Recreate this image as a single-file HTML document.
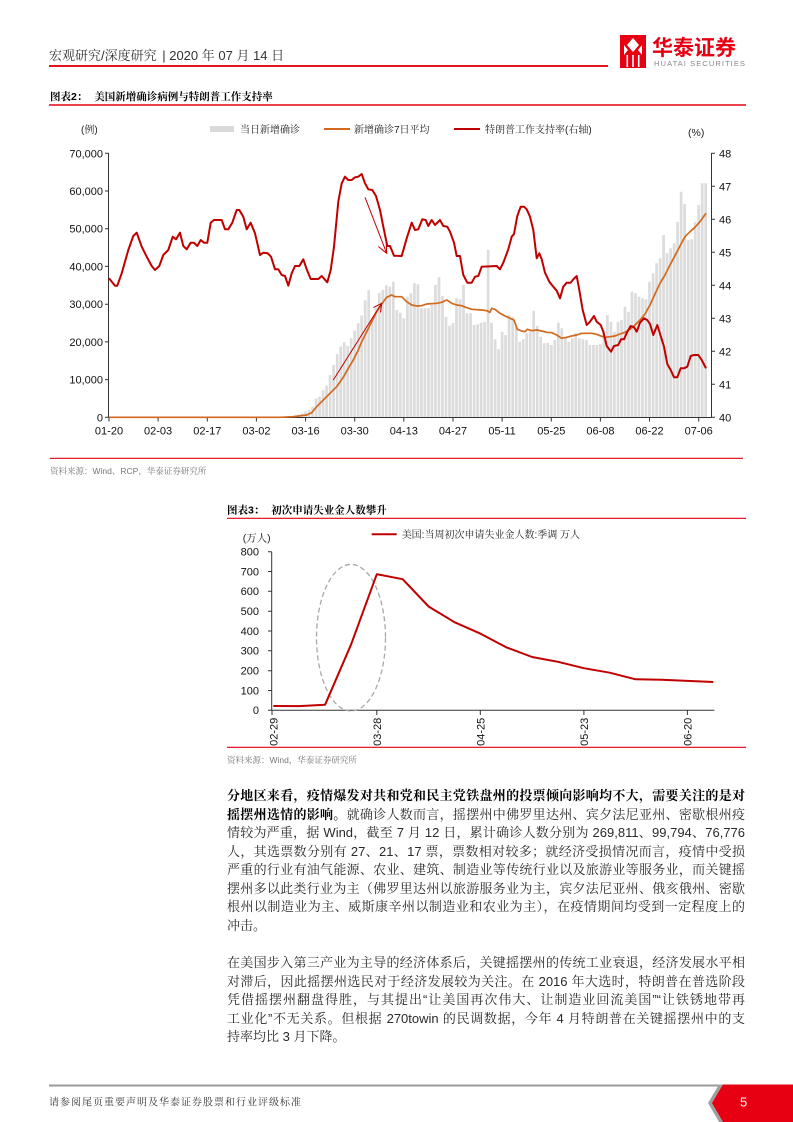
<!DOCTYPE html>
<html><head><meta charset="utf-8">
<style>
html,body{margin:0;padding:0;background:#fff;}
body{width:793px;height:1122px;position:relative;overflow:hidden;font-family:"Liberation Sans","Noto Serif CJK SC",serif;}
svg{position:absolute;left:0;top:0;}
.para{position:absolute;left:227px;width:518px;font-size:13px;color:#2a2a2a;}
.para div{height:18.5px;line-height:18.5px;text-align:justify;text-align-last:justify;white-space:nowrap;}
b{color:#000;font-weight:bold;}
</style></head><body>
<svg width="793" height="1122" viewBox="0 0 793 1122" xmlns="http://www.w3.org/2000/svg" font-family="Liberation Sans, Noto Serif CJK SC, serif">
<!-- header -->
<text x="49" y="60" font-size="13" fill="#333">宏观研究/深度研究 <tspan dx="2">| 2020 年 07 月 14 日</tspan></text>
<line x1="49" y1="66" x2="608" y2="66" stroke="#e8141b" stroke-width="2"/>
<rect x="620" y="35" width="26" height="33" fill="#e60012"/>
<polygon points="633,38 639,45 633,52 627,45" fill="#fff"/>
<polygon points="624,45 628,50 624,55" fill="#fff"/>
<polygon points="642,45 638,50 642,55" fill="#fff"/>
<rect x="626.5" y="55" width="1.6" height="12" fill="#fff"/>
<rect x="632.2" y="55" width="1.6" height="12" fill="#fff"/>
<rect x="637.9" y="55" width="1.6" height="12" fill="#fff"/>
<text x="652" y="55" font-size="21" font-weight="bold" fill="#e60012" font-family="Noto Sans CJK SC, sans-serif">华泰证券</text>
<text x="654" y="66" font-size="7.6" fill="#888" font-family="Liberation Sans, sans-serif" textLength="91">HUATAI SECURITIES</text>

<!-- chart 1 title -->
<text x="50" y="100" font-size="10.5" font-weight="bold" fill="#000">图表2： <tspan dx="4">美国新增确诊病例与特朗普工作支持率</tspan></text>
<line x1="49" y1="105" x2="746" y2="105" stroke="#e60012" stroke-width="1.5"/>

<!-- legend -->
<text x="81" y="133" font-size="10" fill="#222">(例)</text>
<rect x="210" y="126" width="24" height="6" fill="#d9d9d9"/>
<text x="240" y="133" font-size="10" fill="#222">当日新增确诊</text>
<line x1="324" y1="129" x2="350" y2="129" stroke="#d2691e" stroke-width="2"/>
<text x="354" y="133" font-size="10" fill="#222">新增确诊7日平均</text>
<line x1="454" y1="129" x2="480" y2="129" stroke="#c00000" stroke-width="2"/>
<text x="485" y="133" font-size="10" fill="#222">特朗普工作支持率(右轴)</text>
<text x="688" y="136" font-size="10.5" fill="#222">(%)</text>

<!-- bars -->
<path stroke="#dcdcdc" stroke-width="2.7" fill="none" d="M284.5 417V416.5M288 417V416.2M291.5 417V415.8M295 417V415.4M298.5 417V414.7M302.1 417V413.5M305.6 417V411.6M309.1 417V409.8M312.6 417V406.7M316.1 417V398.5M319.6 417V396.6M323.1 417V390.2M326.6 417V385.6M330.1 417V375.1M333.6 417V364.9M337.2 417V354M340.7 417V346.4M344.2 417V342.3M347.7 417V345.7M351.2 417V338.1M354.7 417V330.6M358.2 417V323.1M361.7 417V315.5M365.2 417V300.4M368.7 417V290.3M372.3 417V320.4M375.8 417V308M379.3 417V292.9M382.8 417V289.9M386.3 417V285.3
M389.8 417V286.7M393.3 417V281.7M396.8 417V310M400.3 417V312.7M403.8 417V318.3M407.4 417V296.7M410.9 417V293.3M414.4 417V283.3M417.9 417V284.3M421.4 417V308.3M424.9 417V308.3M428.4 417V308.3M431.9 417V305M435.4 417V285M439 417V277.3M442.5 417V296M446 417V316.7M449.5 417V325.7M453 417V323.3M456.5 417V298.3M460 417V299.3M463.5 417V285M467 417V313.3M470.6 417V313.3M474.1 417V325M477.6 417V324.3M481.1 417V322.7M484.6 417V321.7M488.1 417V250M491.6 417V322.7M495.1 417V339.3M498.6 417V349.3M502.1 417V331.7M505.6 417V335M509.1 417V315M512.7 417V316.7M516.2 417V326.7M519.7 417V341.7M523.2 417V339.3M526.7 417V333.3M530.2 417V331.7M533.7 417V310.7M537.2 417V326M540.7 417V336.7M544.2 417V343.3M547.8 417V342.7M551.3 417V345M554.8 417V340M558.3 417V322.7M561.8 417V328.3M565.3 417V338.3M568.8 417V341.7M572.3 417V338.3M575.8 417V333.3M579.3 417V338.3M582.9 417V339.3M586.4 417V340M589.9 417V345M593.4 417V345M596.9 417V345M600.4 417V344M603.9 417V330M607.4 417V315M610.9 417V321.7M614.4 417V331.7M618 417V321.7M621.5 417V320M625 417V306.7M628.5 417V311.7M632 417V291.7M635.5 417V293.3M639 417V296.7M642.5 417V298.3M646 417V299.3M649.5 417V281.7M653.1 417V273.3M656.6 417V263.3M660.1 417V258.3M663.6 417V235M667.1 417V253.3M670.6 417V248.3M674.1 417V243.3M677.6 417V221.7M681.1 417V191.7M684.6 417V204M688.2 417V240M691.7 417V239.3M695.2 417V221.7M698.7 417V205M702.2 417V183.3M705.7 417V183.3"/>

<!-- axes chart 1 -->
<g stroke="#333" stroke-width="1" fill="none">
<line x1="108.5" y1="153" x2="108.5" y2="417.5"/>
<line x1="711.5" y1="153" x2="711.5" y2="417.5"/>
<line x1="108.5" y1="417.5" x2="711.5" y2="417.5"/>
<path d="M105 153.3H108.5M105 191H108.5M105 228.7H108.5M105 266.4H108.5M105 304.2H108.5M105 341.9H108.5M105 379.6H108.5M105 417.3H108.5"/>
<path d="M711.5 153.3H715M711.5 186.3H715M711.5 219.3H715M711.5 252.3H715M711.5 285.3H715M711.5 318.3H715M711.5 351.3H715M711.5 384.3H715M711.5 417.3H715"/>
<path d="M109 417.5V421.5M158.1 417.5V421.5M207.3 417.5V421.5M256.4 417.5V421.5M305.6 417.5V421.5M354.7 417.5V421.5M403.8 417.5V421.5M453 417.5V421.5M502.1 417.5V421.5M551.3 417.5V421.5M600.4 417.5V421.5M649.5 417.5V421.5M698.7 417.5V421.5"/>
</g>
<g font-size="11" fill="#111" text-anchor="end">
<text x="103" y="157.3">70,000</text><text x="103" y="195">60,000</text><text x="103" y="232.7">50,000</text><text x="103" y="270.4">40,000</text><text x="103" y="308.2">30,000</text><text x="103" y="345.9">20,000</text><text x="103" y="383.6">10,000</text><text x="103" y="421.3">0</text>
</g>
<g font-size="11" fill="#111">
<text x="719" y="157.3">48</text><text x="719" y="190.3">47</text><text x="719" y="223.3">46</text><text x="719" y="256.3">45</text><text x="719" y="289.3">44</text><text x="719" y="322.3">43</text><text x="719" y="355.3">42</text><text x="719" y="388.3">41</text><text x="719" y="421.3">40</text>
</g>
<g font-size="11" fill="#111" text-anchor="middle">
<text x="109" y="434.5">01-20</text><text x="158.1" y="434.5">02-03</text><text x="207.3" y="434.5">02-17</text><text x="256.4" y="434.5">03-02</text><text x="305.6" y="434.5">03-16</text><text x="354.7" y="434.5">03-30</text><text x="403.8" y="434.5">04-13</text><text x="453" y="434.5">04-27</text><text x="502.1" y="434.5">05-11</text><text x="551.3" y="434.5">05-25</text><text x="600.4" y="434.5">06-08</text><text x="649.5" y="434.5">06-22</text><text x="698.7" y="434.5">07-06</text>
</g>

<!-- orange 7d avg -->
<polyline fill="none" stroke="#d2691e" stroke-width="1.7" stroke-linejoin="round" points="109,417.3 280,417.3 293.3,416.7 306.7,415 311.7,412.7 316.7,406.7 323.3,400 330,393.3 336.7,386.7 343.3,377.3 348.3,368.3 353.3,360 358.3,350 361.7,341.7 366.7,331.7 371.7,321.7 376.7,311.7 381.7,304 386.7,297.3 391.7,295 395,296.7 401.7,296.7 406.7,301.7 411.7,305 416.7,306 421.7,305.7 426.7,304 436.7,303.3 441.7,302.3 446.7,300 451.7,303.3 456.7,305 461.7,305.7 466.7,307.7 471.7,309.3 481.7,310 486.7,310.7 490,312.3 491.7,308.3 495,309.3 500,313.3 505,316 510,318.3 514,320 517.3,329.3 521.7,331 525,331.7 527.3,329.3 531.7,330.7 536.7,330 541.7,331 546.7,332.3 551.7,332.7 556.7,335 561.7,338.3 566.7,337.3 571.7,336 576.7,335 581.7,333.3 591.7,333.3 596.7,334.3 600,335.7 605,337.3 610,336.7 615,336 620,334 625,332.3 630,329.3 635,325 640,320 645,314 650,305 655,294 660,283.3 665,275 670,265 675,255.7 680,246 685,236.7 690,231.7 695,227.3 700,221.7 706,213.3"/>

<!-- red approval -->
<polyline fill="none" stroke="#c00000" stroke-width="2" stroke-linejoin="round" points="109,278.3 115,285.7 117.3,285.7 121.7,273.3 128.3,250 133.3,236 136.7,232.7 141.7,246.7 146.7,256.7 151.7,266 155,270 159.3,266 163.3,255 168.3,250 172.7,236.7 176,239.3 180,232.7 183.3,246 186.7,249.3 190.7,242.7 194,242.7 197.3,246 200.7,240 204,242.7 207.3,242.7 210.7,222.7 214,220 221.7,220 225,229.3 228.3,229.3 232.3,222.7 236.7,210 239.3,210 243.3,216.7 246.7,229.3 250.7,222.7 255,233.3 260,255 263.3,252.7 267.7,253.3 271,256.7 275,269.3 278.3,269.3 281.7,275 285,276 288.3,285.7 291.7,273.3 295,266 299.3,266 303.3,259.3 306.7,269.3 310.7,279 318.3,279 321.7,276 327.3,282.3 330.7,270 334,246.7 338.3,201.7 341.7,183.3 345,176.7 348.3,180 351.7,180 355,177.3 358.3,176.7 361.7,174 365,183.3 368.3,189.3 372.3,190 376,196 380,210 383.3,226.7 387.3,246 390,246 394,255.7 401.7,256 406.7,238.3 411.7,222.7 415,230 418.3,229.3 422.3,219.3 425.7,220 428.3,226 431.7,220 435,225 440,220 443.3,226 447.3,226.7 450,231.7 454,242.7 456.7,256 460,256 463.3,275 467.3,282.7 471.7,282.7 475,276.7 478.3,276 481.7,266.7 496.7,266 500,269.3 503.3,262.7 508.3,249.3 511.7,236.7 514,234 517.3,216 520.7,206.7 524,206.7 526.7,209.3 530,216.7 533.3,230 536.7,258.3 539.3,253.3 541.7,259.3 545,272.7 549.3,281.7 553.3,286.7 556.7,290.7 560,298.3 563.3,286.7 566.7,282.7 570.7,282.7 573.3,279.3 576.7,276 579.3,290 582.7,310 586.7,325 590,321.7 594,316 596.7,321.7 600.7,325 603.3,331.7 606.7,346 611,351.7 614,346 618.3,345 621,339.3 624,339.3 627.3,331.7 630.7,326 634,327.3 636.7,331.7 640,322.7 644,318.3 647.3,320 650,324 653.3,335 657.3,325 660.7,336 664,346.7 667.3,364 670.7,370 674,377.3 677.3,377.3 680.7,368.3 684,368.3 687.3,366.7 690.7,356 694,355 698.3,355 701.7,360 706,368.3"/>

<!-- arrows -->
<g stroke="#c00000" stroke-width="1" fill="none">
<line x1="365" y1="197.3" x2="386.7" y2="253.3"/>
<polyline points="378.3,246.5 386.7,253.3 386.3,243.5"/>
<line x1="333.3" y1="380" x2="381.7" y2="303.3"/>
<polyline points="373.5,307.5 381.7,303.3 380.5,312.5"/>
</g>

<line x1="50" y1="458.3" x2="743" y2="458.3" stroke="#e60012" stroke-width="1.2"/>
<text x="50" y="474" font-size="8.5" fill="#777">资料来源：Wind、RCP，华泰证券研究所</text>

<!-- chart 2 -->
<text x="227" y="513.5" font-size="10.5" font-weight="bold" fill="#000">图表3： <tspan dx="4">初次申请失业金人数攀升</tspan></text>
<line x1="227" y1="518.3" x2="746" y2="518.3" stroke="#e60012" stroke-width="1.2"/>
<line x1="371.7" y1="534.3" x2="396.7" y2="534.3" stroke="#c00000" stroke-width="2"/>
<text x="401.7" y="538" font-size="10" fill="#222">美国:当周初次申请失业金人数:季调 万人</text>
<text x="242.7" y="541.5" font-size="10.5" fill="#222">(万人)</text>
<g stroke="#333" stroke-width="1" fill="none">
<line x1="271.7" y1="551.7" x2="271.7" y2="710.3"/>
<line x1="271.7" y1="710.3" x2="714.3" y2="710.3"/>
<path d="M268 551.7H271.7M268 571.5H271.7M268 591.3H271.7M268 611.2H271.7M268 631H271.7M268 650.8H271.7M268 670.7H271.7M268 690.5H271.7M268 710.3H271.7"/>
<path d="M272 710.3V715M376.8 710.3V715M480.3 710.3V715M583.9 710.3V715M687.4 710.3V715"/>
</g>
<g font-size="11" fill="#111" text-anchor="end">
<text x="259" y="555.5">800</text><text x="259" y="575.3">700</text><text x="259" y="595.1">600</text><text x="259" y="615">500</text><text x="259" y="634.8">400</text><text x="259" y="654.6">300</text><text x="259" y="674.5">200</text><text x="259" y="694.3">100</text><text x="259" y="714.1">0</text>
</g>
<g font-size="11" fill="#111" text-anchor="end">
<text transform="translate(277.3,717.7) rotate(-90)">02-29</text>
<text transform="translate(380.8,717.7) rotate(-90)">03-28</text>
<text transform="translate(484.3,717.7) rotate(-90)">04-25</text>
<text transform="translate(587.9,717.7) rotate(-90)">05-23</text>
<text transform="translate(691.4,717.7) rotate(-90)">06-20</text>
</g>
<ellipse cx="351" cy="637.7" rx="34.5" ry="73.3" fill="none" stroke="#a8a8a8" stroke-width="1.3" stroke-dasharray="5,3"/>
<polyline fill="none" stroke="#c00000" stroke-width="2" stroke-linejoin="round" points="273.3,706 299.2,706.1 325.1,704.7 351,644.7 376.8,574.2 402.7,579.2 428.6,606.5 454.5,622.2 480.3,633.6 506.2,647.3 532.1,657 558,661.8 583.9,668.2 609.7,672.7 635.6,679.3 661.5,679.8 687.4,680.9 713.3,682"/>
<line x1="227" y1="747.3" x2="746" y2="747.3" stroke="#e60012" stroke-width="1.2"/>
<text x="227" y="763" font-size="8.5" fill="#777">资料来源：Wind，华泰证券研究所</text>

<!-- footer -->
<line x1="49" y1="1085.5" x2="722" y2="1085.5" stroke="#9a9a9a" stroke-width="2"/>
<polygon points="719,1084.5 793,1084.5 793,1122 719,1122 708,1103" fill="#a0a0a0"/>
<polygon points="723,1084.5 793,1084.5 793,1122 723,1122 712,1103" fill="#e60012"/>
<text x="740" y="1106.5" font-size="13" fill="#fff" font-family="Liberation Sans, sans-serif">5</text>
<text x="49" y="1105.5" font-size="10" fill="#333" letter-spacing="1">请参阅尾页重要声明及华泰证券股票和行业评级标准</text>
</svg>

<div class="para" style="top:787px">
<div><b>分地区来看，疫情爆发对共和党和民主党铁盘州的投票倾向影响均不大，需要关注的是对</b></div>
<div><b>摇摆州选情的影响。</b>就确诊人数而言，摇摆州中佛罗里达州、宾夕法尼亚州、密歇根州疫</div>
<div>情较为严重，据 Wind，截至 7 月 12 日，累计确诊人数分别为 269,811、99,794、76,776</div>
<div>人，其选票数分别有 27、21、17 票，票数相对较多；就经济受损情况而言，疫情中受损</div>
<div>严重的行业有油气能源、农业、建筑、制造业等传统行业以及旅游业等服务业，而关键摇</div>
<div>摆州多以此类行业为主（佛罗里达州以旅游服务业为主，宾夕法尼亚州、俄亥俄州、密歇</div>
<div>根州以制造业为主、威斯康辛州以制造业和农业为主），在疫情期间均受到一定程度上的</div>
<div style="text-align:left;text-align-last:left">冲击。</div>
</div>

<div class="para" style="top:954px">
<div>在美国步入第三产业为主导的经济体系后，关键摇摆州的传统工业衰退，经济发展水平相</div>
<div>对滞后，因此摇摆州选民对于经济发展较为关注。在 2016 年大选时，特朗普在普选阶段</div>
<div>凭借摇摆州翻盘得胜，与其提出“让美国再次伟大、让制造业回流美国”“让铁锈地带再</div>
<div>工业化”不无关系。但根据 270towin 的民调数据，今年 4 月特朗普在关键摇摆州中的支</div>
<div style="text-align:left;text-align-last:left">持率均比 3 月下降。</div>
</div>
</body></html>
